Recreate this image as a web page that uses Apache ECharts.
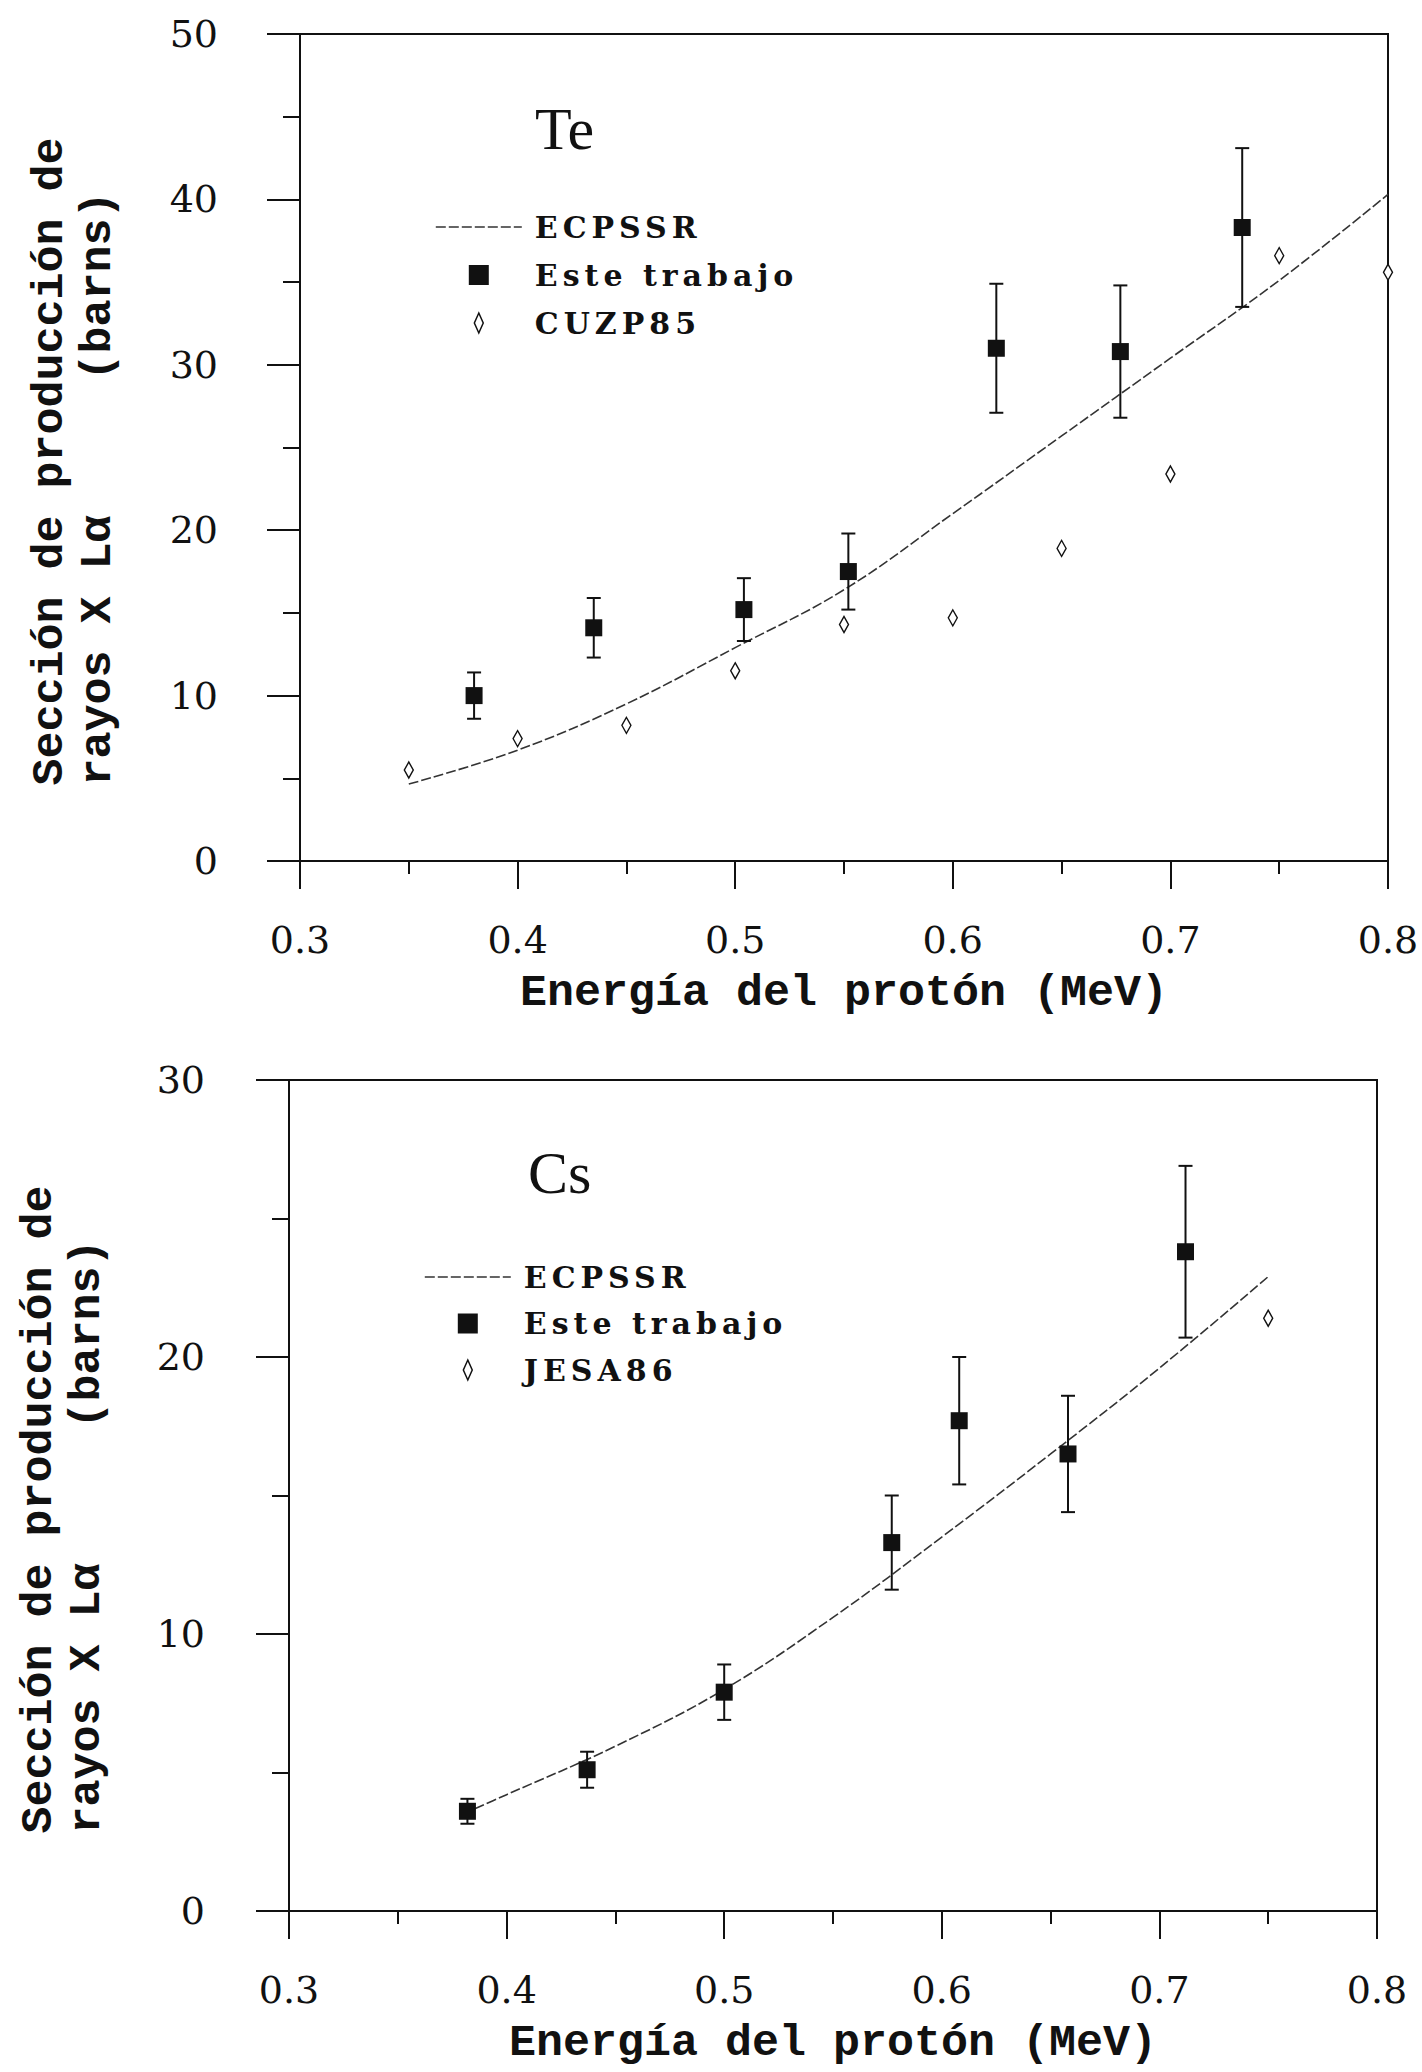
<!DOCTYPE html>
<html>
<head>
<meta charset="utf-8">
<title>Sección de producción de rayos X Lα — Te y Cs</title>
<script src="https://cdn.jsdelivr.net/npm/echarts@6/dist/echarts.min.js"></script>
<style>
  html, body { margin: 0; padding: 0; background: #fff; }
  #chart { width: 1422px; height: 2072px; }
  #chart text { white-space: pre; }
  /* the legend entries are letter-spaced in the original */
  #chart text[style*="bold"][style*="DejaVu Serif"] { letter-spacing: 5px; }
</style>
</head>
<body>
<div id="chart"></div>
<script>
// Tick labels (both panels share the energy axis)
const energyTicks = [0.3, 0.4, 0.5, 0.6, 0.7, 0.8]

// Te panel
const teTheoryX = [0.35, 0.40, 0.45, 0.50, 0.55, 0.60, 0.65, 0.70, 0.75, 0.80]
const teTheoryY = [4.65, 6.7, 9.5, 12.9, 16.4, 21.0, 25.7, 30.4, 35.1, 40.3]
const teWorkX = [0.380, 0.435, 0.504, 0.552, 0.620, 0.677, 0.733]
const teWorkY = [10.0, 14.1, 15.2, 17.5, 31.0, 30.8, 38.3]
const teWorkErr = [1.4, 1.8, 1.9, 2.3, 3.9, 4.0, 4.8]
const teRefX = [0.35, 0.40, 0.45, 0.50, 0.55, 0.60, 0.65, 0.70, 0.75, 0.80]
const teRefY = [5.5, 7.4, 8.2, 11.5, 14.3, 14.7, 18.9, 23.4, 36.6, 35.6]

// Cs panel
const csTheoryX = [0.38, 0.40, 0.45, 0.50, 0.55, 0.60, 0.65, 0.70, 0.75]
const csTheoryY = [3.5, 4.2, 5.95, 8.0, 10.6, 13.5, 16.5, 19.6, 22.9]
const csWorkX = [0.382, 0.437, 0.500, 0.577, 0.608, 0.658, 0.712]
const csWorkY = [3.6, 5.1, 7.9, 13.3, 17.7, 16.5, 23.8]
const csWorkErr = [0.45, 0.65, 1.0, 1.7, 2.3, 2.1, 3.1]
const csRefX = [0.75]
const csRefY = [21.4]

const ink = "#111"
const serif = "Liberation Serif"
const tickFont = "DejaVu Serif"
const mono = "Liberation Mono"
const squareIcon = "path://M0,0H10V10H0Z"
const diamondIcon = "path://M4,0L8,9L4,18L0,9Z"
const curveStyle = { color: "#333", width: 1.6, type: [10, 3] }

const pairs = (xs, ys) => xs.map((x, i) => [x, ys[i]])
const bars = (xs, ys, es) => xs.map((x, i) => [x, ys[i] - es[i], ys[i] + es[i]])

function renderErrorBar(params, api) {
  const x = api.value(0)
  const top = api.coord([x, api.value(2)])
  const bottom = api.coord([x, api.value(1)])
  const half = 7
  const style = { stroke: ink, lineWidth: 2 }
  return {
    type: "group",
    children: [
      { type: "line", shape: { x1: top[0], y1: top[1], x2: bottom[0], y2: bottom[1] }, style },
      { type: "line", shape: { x1: top[0] - half, y1: top[1], x2: top[0] + half, y2: top[1] }, style },
      { type: "line", shape: { x1: bottom[0] - half, y1: bottom[1], x2: bottom[0] + half, y2: bottom[1] }, style },
    ],
  }
}

function xAxisFor(gridIndex) {
  return {
    type: "value",
    gridIndex,
    min: energyTicks[0],
    max: energyTicks[energyTicks.length - 1],
    interval: 0.1,
    name: "Energía del protón (MeV)",
    nameLocation: "middle",
    nameGap: 110,
    nameTextStyle: { fontFamily: mono, fontWeight: "bold", fontSize: 45, color: ink },
    axisLine: { onZero: false, lineStyle: { color: ink, width: 2 } },
    axisTick: { length: 28, lineStyle: { color: ink, width: 2 } },
    minorTick: { show: true, splitNumber: 2, length: 13, lineStyle: { color: ink, width: 2 } },
    splitLine: { show: false },
    minorSplitLine: { show: false },
    axisLabel: {
      margin: 60,
      fontFamily: tickFont,
      fontSize: 38,
      color: ink,
      formatter: (v) => v.toFixed(1),
    },
  }
}

function yAxisFor(gridIndex, max, labelMargin) {
  return {
    type: "value",
    gridIndex,
    min: 0,
    max,
    interval: 10,
    name: "Sección de producción de\nrayos X Lα     (barns)  ",
    nameLocation: "middle",
    nameGap: 178,
    nameRotate: 90,
    nameTextStyle: {
      fontFamily: mono,
      fontWeight: "bold",
      fontSize: 45,
      lineHeight: 48,
      color: ink,
      padding: [0, 28, 0, 0],
    },
    axisLine: { onZero: false, lineStyle: { color: ink, width: 2 } },
    axisTick: { length: 33, lineStyle: { color: ink, width: 2 } },
    minorTick: { show: true, splitNumber: 2, length: 17, lineStyle: { color: ink, width: 2 } },
    splitLine: { show: false },
    minorSplitLine: { show: false },
    axisLabel: { margin: labelMargin, fontFamily: tickFont, fontSize: 38, color: ink },
  }
}

function legendFor(left, top, gap, refName) {
  return {
    orient: "vertical",
    left,
    top,
    itemWidth: 86,
    itemHeight: 20,
    itemGap: gap,
    selectedMode: false,
    textStyle: {
      fontFamily: "DejaVu Serif",
      fontWeight: "bold",
      fontSize: 30,
      lineHeight: 34,
      color: ink,
      padding: [0, 0, 0, 8],
    },
    data: [
      { name: "ECPSSR", itemStyle: { opacity: 0 }, lineStyle: curveStyle },
      { name: "Este trabajo", icon: squareIcon, itemStyle: { color: ink } },
      { name: refName, icon: diamondIcon, itemStyle: { color: "#fff", borderColor: ink, borderWidth: 1.5 } },
    ],
  }
}

function panelSeries(axisIndex, theory, work, err, ref, refName) {
  return [
    {
      name: "ECPSSR",
      type: "line",
      xAxisIndex: axisIndex,
      yAxisIndex: axisIndex,
      data: theory,
      smooth: 0.4,
      symbol: "none",
      lineStyle: curveStyle,
      itemStyle: { color: "#333" },
      z: 2,
    },
    {
      name: "error " + axisIndex,
      type: "custom",
      xAxisIndex: axisIndex,
      yAxisIndex: axisIndex,
      renderItem: renderErrorBar,
      encode: { x: 0, y: [1, 2] },
      data: err,
      silent: true,
      z: 3,
    },
    {
      name: "Este trabajo",
      type: "scatter",
      xAxisIndex: axisIndex,
      yAxisIndex: axisIndex,
      data: work,
      symbol: "rect",
      symbolSize: 17,
      itemStyle: { color: ink, opacity: 1 },
      z: 4,
    },
    {
      name: refName,
      type: "scatter",
      xAxisIndex: axisIndex,
      yAxisIndex: axisIndex,
      data: ref,
      symbol: "diamond",
      symbolSize: [9, 16],
      itemStyle: { color: "#fff", borderColor: ink, borderWidth: 1.5, opacity: 1 },
      z: 4,
    },
  ]
}

const chart = echarts.init(document.getElementById("chart"), null, { renderer: "svg" })

chart.setOption({
  animation: false,
  backgroundColor: "#fff",
  title: [
    { text: "Te", left: 535, top: 99, padding: 0, textStyle: { fontFamily: serif, fontSize: 60, fontWeight: "normal", color: ink } },
    { text: "Cs", left: 528, top: 1143, padding: 0, textStyle: { fontFamily: serif, fontSize: 60, fontWeight: "normal", color: ink } },
  ],
  legend: [legendFor(430, 205, 14, "CUZP85"), legendFor(419, 1255, 12.5, "JESA86")],
  grid: [
    { left: 300, top: 34, width: 1088, height: 827, show: true, borderColor: ink, borderWidth: 2, outerBoundsMode: "none" },
    { left: 289, top: 1080, width: 1088, height: 831, show: true, borderColor: ink, borderWidth: 2, outerBoundsMode: "none" },
  ],
  xAxis: [xAxisFor(0), xAxisFor(1)],
  yAxis: [yAxisFor(0, 50, 82), yAxisFor(1, 30, 84)],
  series: [
    ...panelSeries(0, pairs(teTheoryX, teTheoryY), pairs(teWorkX, teWorkY), bars(teWorkX, teWorkY, teWorkErr), pairs(teRefX, teRefY), "CUZP85"),
    ...panelSeries(1, pairs(csTheoryX, csTheoryY), pairs(csWorkX, csWorkY), bars(csWorkX, csWorkY, csWorkErr), pairs(csRefX, csRefY), "JESA86"),
  ],
})

window.addEventListener("resize", () => chart.resize())
</script>
</body>
</html>
